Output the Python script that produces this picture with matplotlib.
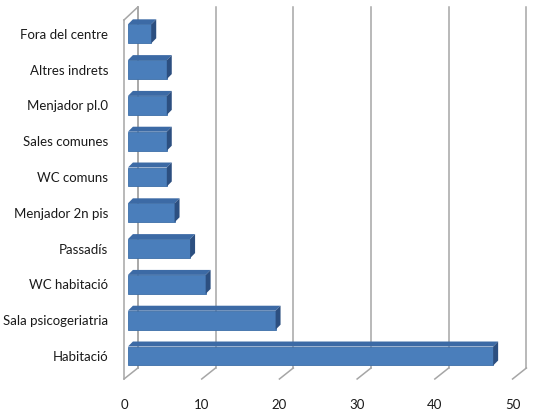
import matplotlib.pyplot as plt
from matplotlib.patches import Polygon
import numpy as np

# Data (top to bottom as shown in the chart)
categories = ["Fora del centre", "Altres indrets", "Menjador pl.0", "Sales comunes",
              "WC comuns", "Menjador 2n pis", "Passadís", "WC habitació",
              "Sala psicogeriatria", "Habitació"]
values = [3, 5, 5, 5, 5, 6, 8, 10, 19, 47]
x_ticks = [0, 10, 20, 30, 40, 50]

plt.rcParams['font.family'] = ['Lato', 'DejaVu Sans']

W, H = 534, 415
fig = plt.figure(figsize=(W / 100, H / 100), dpi=100)

# pixel scale of the bar plane
px_x = 7.85    # pixels per unit value
px_y = 35.8    # pixels per category
x0_px = 124
bottom_px = 373.9
ax = fig.add_axes([x0_px / W, (H - bottom_px) / H, 50 * px_x / W, 10 * px_y / H])
ax.set_xlim(0, 50)
ax.set_ylim(-0.5, 9.5)

# reverse so first category is on top
cats = categories[::-1]
vals = values[::-1]
ypos = np.arange(len(cats))

def px2dx(p):
    return p / px_x

def px2dy(p):
    return p / px_y

# wall/floor geometry (in data units)
front_dx, front_y = px2dx(-4), px2dy(bottom_px - 379) - 0.5
back_dx, back_y = px2dx(10), px2dy(bottom_px - 368) - 0.5
front_top = px2dy(bottom_px - 20) - 0.5
back_top = px2dy(bottom_px - 7) - 0.5

grid_kw = dict(color="#a6a6a6", lw=1.1, clip_on=False, zorder=1)

# left wall (thin slab)
ax.plot([front_dx, front_dx], [front_y, front_top], **grid_kw)
ax.plot([back_dx, back_dx], [back_y, back_top], **grid_kw)
ax.plot([front_dx, back_dx], [front_top, back_top], **grid_kw)

# back wall gridlines and floor diagonals
for v in x_ticks:
    ax.plot([v + back_dx, v + back_dx], [back_y, back_top], **grid_kw)
    ax.plot([v + front_dx, v + back_dx], [front_y, back_y], **grid_kw)

# bars: front face + top + side
bh = 0.53
ddx, ddy = px2dx(5), px2dy(5)
ax.barh(ypos, vals, height=bh, left=0, color="#4a7ebb", edgecolor="#3d6ea8",
        linewidth=0.6, zorder=3, clip_on=False)
for y, v in zip(ypos, vals):
    top = [(0, y + bh / 2), (v, y + bh / 2), (v + ddx, y + bh / 2 + ddy), (ddx, y + bh / 2 + ddy)]
    side = [(v, y - bh / 2), (v, y + bh / 2), (v + ddx, y + bh / 2 + ddy), (v + ddx, y - bh / 2 + ddy)]
    ax.add_patch(Polygon(top, closed=True, facecolor="#3c6aa5", edgecolor="none",
                         zorder=3, clip_on=False))
    ax.add_patch(Polygon(side, closed=True, facecolor="#2c4f80", edgecolor="none",
                         zorder=3, clip_on=False))

# category labels
ax.set_yticks(ypos, cats)
ax.tick_params(axis="y", length=0, pad=16 * 0.72, labelsize=9.5, labelcolor="#1a1a1a")

# value axis labels on the front plane
ax.set_xticks([v + front_dx for v in x_ticks], [str(v) for v in x_ticks])
ax.tick_params(axis="x", length=0, pad=(405 - bottom_px - 6) * 0.72, labelsize=9.5,
               labelcolor="#1a1a1a")

for s in ax.spines.values():
    s.set_visible(False)
ax.patch.set_visible(False)

fig.savefig("out.png", dpi=100)
